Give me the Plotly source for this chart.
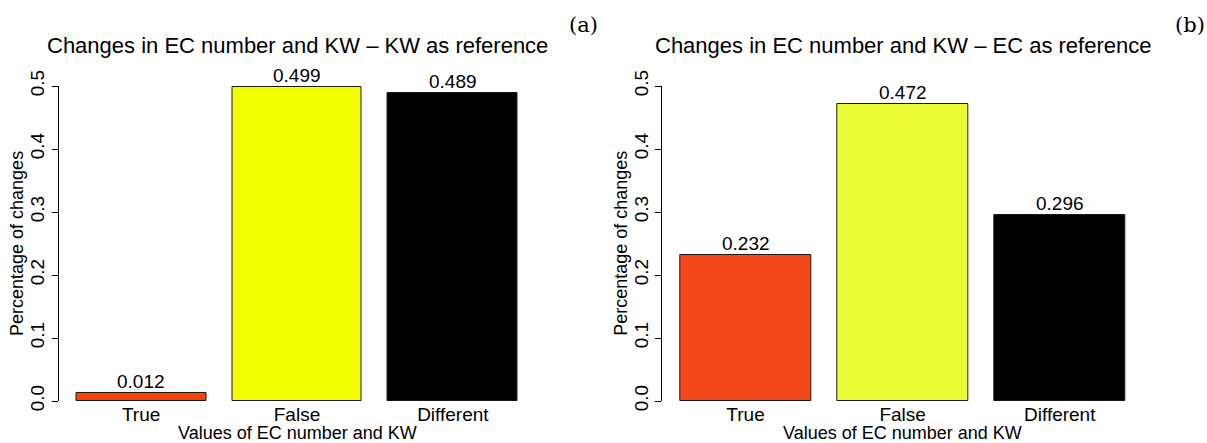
import plotly.graph_objects as go

categories = ["True", "False", "Different"]
values_a = [0.012, 0.499, 0.489]
values_b = [0.232, 0.472, 0.296]
colors_a = ["#F94306", "#F1FF00", "#000000"]
colors_b = ["#F4481A", "#EAFC33", "#000000"]
titles = ["Changes in EC number and KW \u2013 KW as reference",
          "Changes in EC number and KW \u2013 EC as reference"]
panel_tags = ["(a)", "(b)"]
y_ticks = [0.0, 0.1, 0.2, 0.3, 0.4, 0.5]
x_title = "Values of EC number and KW"
y_title = "Percentage of changes"

W, H = 1207, 443
FONT = "Liberation Sans, Arial, Helvetica, sans-serif"

# R barplot layout: width 1, space 0.2
xpos = [0.2 + i * 1.2 + 0.5 for i in range(len(categories))]
xlo = 0.2 - 0.04 * 3.4
xhi = 3.6 + 0.04 * 3.4

fig = go.Figure()
panels = [(values_a, colors_a, "x", "y"), (values_b, colors_b, "x2", "y2")]
for vals, cols, xa, ya in panels:
    fig.add_trace(go.Bar(
        x=xpos, y=vals, width=1.0, marker=dict(color=cols, line=dict(color="#1a1a1a", width=1)),
        xaxis=xa, yaxis=ya, showlegend=False, hoverinfo="skip"))

x_domains = [[58.5 / W, 535.5 / W], [662.3 / W, 1143.0 / W]]
y_domain = [(H - 401) / H, (H - 86) / H]

axis_common_x = dict(range=[xlo, xhi], showgrid=False, zeroline=False, showline=False,
                     tickvals=xpos, ticktext=categories, ticks="", automargin=False,
                     tickfont=dict(family=FONT, size=19, color="black"))
axis_common_y = dict(range=[0, 0.5], showgrid=False, zeroline=False, showline=True,
                     linecolor="black", linewidth=1, ticks="outside", ticklen=6,
                     tickcolor="black", tickvals=y_ticks, automargin=False,
                     ticktext=[f"{v:.1f}" for v in y_ticks], tickangle=-90,
                     tickfont=dict(family=FONT, size=19, color="black"))

fig.update_layout(
    width=W, height=H, margin=dict(l=0, r=0, t=0, b=0),
    paper_bgcolor="white", plot_bgcolor="white",
    xaxis=dict(domain=x_domains[0], anchor="y", **axis_common_x),
    yaxis=dict(domain=y_domain, anchor="x", **axis_common_y),
    xaxis2=dict(domain=x_domains[1], anchor="y2", **axis_common_x),
    yaxis2=dict(domain=y_domain, anchor="x2", **axis_common_y),
    bargap=0,
)

annotations = []
for p, (vals, cols, xa, ya) in enumerate(panels):
    xr = "x" if p == 0 else "x2"
    yr = "y" if p == 0 else "y2"
    for xv, v in zip(xpos, vals):
        annotations.append(dict(x=xv, y=v, xref=xr, yref=yr, text=f"{v:.3f}",
                                showarrow=False, yanchor="bottom", yshift=-1,
                                font=dict(family=FONT, size=19, color="black")))
    d0, d1 = x_domains[p]
    cx = (d0 + d1) / 2
    annotations.append(dict(x=cx, y=1 - 45 / H, xref="paper", yref="paper", text=titles[p],
                            showarrow=False, xanchor="center", yanchor="middle",
                            font=dict(family=FONT, size=22, color="black")))
    annotations.append(dict(x=cx, y=0, xref="paper", yref="paper", text=x_title,
                            showarrow=False, xanchor="center", yanchor="bottom", yshift=-2,
                            font=dict(family=FONT, size=18, color="black")))
    annotations.append(dict(x=(d0 * W - 41) / W, y=(y_domain[0] + y_domain[1]) / 2,
                            xref="paper", yref="paper", text=y_title, textangle=-90,
                            showarrow=False, xanchor="center", yanchor="middle",
                            font=dict(family=FONT, size=18, color="black")))
    tag_x = [583 / W, 1190 / W][p]
    annotations.append(dict(x=tag_x, y=1 - 25 / H, xref="paper", yref="paper", text=panel_tags[p],
                            showarrow=False, xanchor="center", yanchor="middle",
                            font=dict(family="DejaVu Serif, Liberation Serif, serif", size=21, color="black")))

fig.update_layout(annotations=annotations)
fig.write_html("out.html")
